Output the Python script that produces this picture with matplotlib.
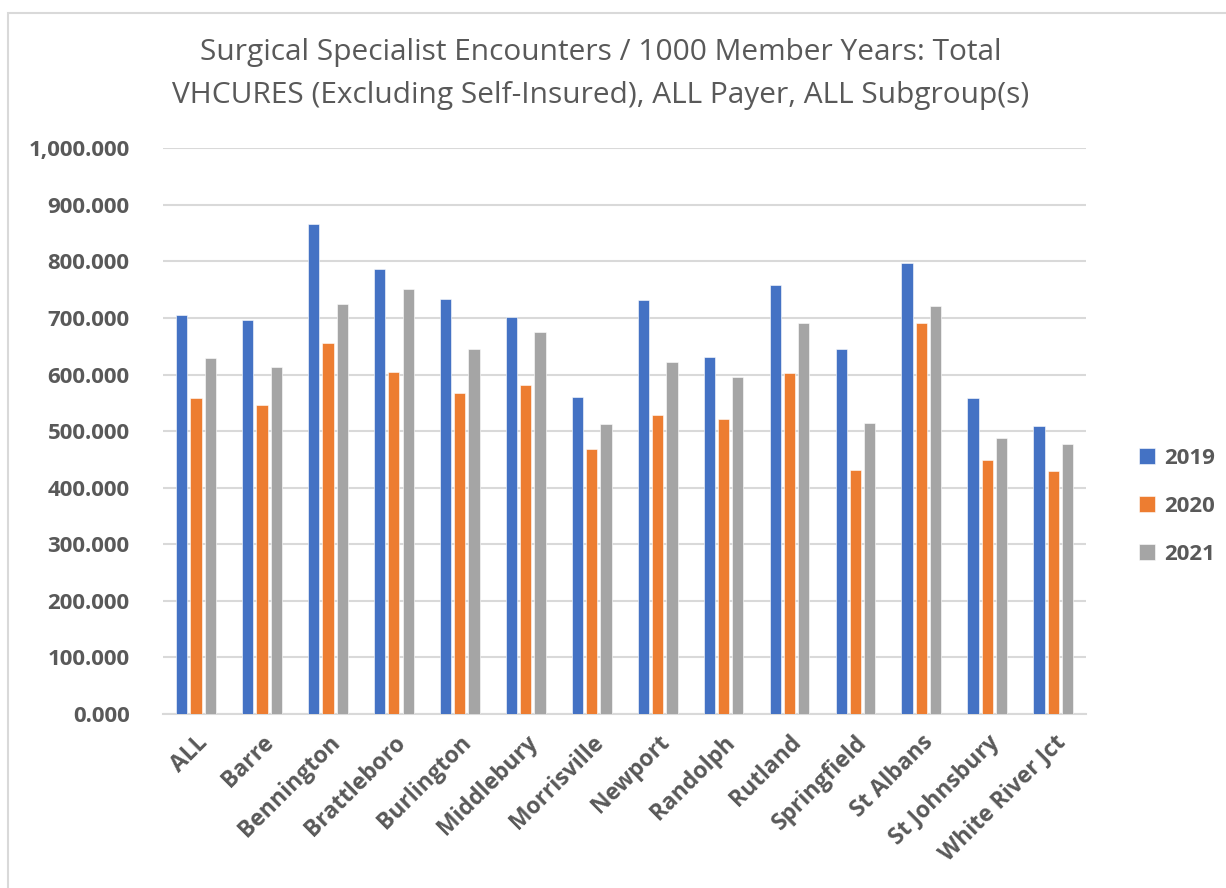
import matplotlib
matplotlib.use("Agg")
import matplotlib.pyplot as plt
import numpy as np
from matplotlib.patches import Rectangle

# values
towns = ["ALL", "Barre", "Bennington", "Brattleboro", "Burlington", "Middlebury",
         "Morrisville", "Newport", "Randolph", "Rutland", "Springfield",
         "St Albans", "St Johnsbury", "White River Jct"]
years = ["2019", "2020", "2021"]
vals_2019 = [706, 696, 866, 786, 733, 702, 560, 731, 631, 758, 646, 798, 558, 509]
vals_2020 = [558, 547, 655, 605, 568, 582, 469, 528, 522, 602, 431, 691, 449, 429]
vals_2021 = [629, 613, 724, 751, 646, 675, 513, 622, 595, 691, 515, 722, 487, 478]
colors = ["#4472C4", "#ED7D31", "#A5A5A5"]

TEXT = "#595959"
plt.rcParams["font.family"] = ["Open Sans", "DejaVu Sans"]

fig = plt.figure(figsize=(12.26, 8.88), dpi=100)
ax = fig.add_axes([0.133, 0.196, 0.753, 0.637])

x = np.arange(len(towns))
step = 0.217
width = 0.17
for i, (vals, yr) in enumerate(zip([vals_2019, vals_2020, vals_2021], years)):
    ax.bar(x + (i - 1) * step, vals, width, color=colors[i], label=yr,
           edgecolor="white", linewidth=0.4, zorder=3)

ax.set_xlim(-0.5, len(towns) - 0.5)
ax.set_ylim(0, 1000)
ax.set_yticks(np.arange(0, 1001, 100))
ax.set_yticklabels([f"{v:,.3f}" for v in range(0, 1001, 100)],
                   fontsize=16, fontweight="bold", color=TEXT)
ax.set_xticks(x)
ax.set_xticklabels(towns, rotation=45, ha="right", rotation_mode="anchor",
                   fontsize=16.5, fontweight="bold", color=TEXT)
ax.tick_params(axis="both", length=0)
ax.tick_params(axis="y", pad=24)
ax.tick_params(axis="x", pad=12)
ax.grid(axis="y", color="#D9D9D9", linewidth=1.5, zorder=0)
for s in ["top", "right", "left"]:
    ax.spines[s].set_visible(False)
ax.spines["bottom"].set_color("#D9D9D9")
ax.spines["bottom"].set_linewidth(1.5)

fig.text(0.49, 0.917, "Surgical Specialist Encounters / 1000 Member Years: Total\n"
         "VHCURES (Excluding Self-Insured), ALL Payer, ALL Subgroup(s)",
         ha="center", va="center", fontsize=21.5, color=TEXT, linespacing=1.62)

fig.legend(loc="center left", bbox_to_anchor=(0.913, 0.43), frameon=False,
           prop={"size": 16, "weight": "bold"}, labelcolor=TEXT,
           handlelength=0.7, handleheight=0.7, handletextpad=0.4,
           labelspacing=1.22)

# chart frame
fig.patches.append(Rectangle((8 / 1226, -0.1), 1.2, 1.1 - 13 / 888,
                             transform=fig.transFigure, fill=False,
                             edgecolor="#D9D9D9", linewidth=1.5))

fig.savefig("out.png", dpi=100, facecolor="white")
